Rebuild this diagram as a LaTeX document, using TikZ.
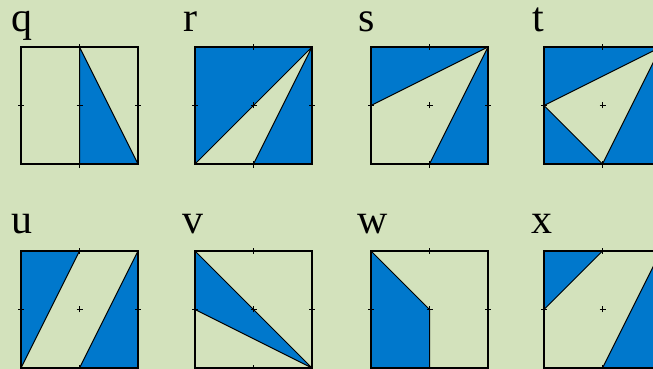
\documentclass[tikz,border=0pt]{standalone}
\usepackage{fontspec}
\setmainfont{Liberation Serif}
\definecolor{paper}{RGB}{211,226,188}
\definecolor{tileblue}{RGB}{0,120,204}
\tikzset{
  frame/.style  = {draw=black, line width=1.1pt},
  region/.style = {fill=tileblue},
  blank/.style  = {fill=paper},
  cut/.style    = {draw=black, line width=1pt, line join=round},
  tick/.style   = {draw=black, line width=1pt},
  tag/.style    = {font=\fontsize{42}{42}\selectfont, anchor=base west,
                   inner sep=0pt},
}
% side of a tile and half of it
\def\s{117}
\def\h{58.5}
\newcommand{\tileticks}{%
  \draw[tick] (-3,\h) -- (3,\h) (\s-3,\h) -- (\s+3,\h)
              (\h,-4) -- (\h,3) (\h,\s-3) -- (\h,\s+3)
              (\h-3,\h) -- (\h+3,\h) (\h,\h-3) -- (\h,\h+3);}

\begin{document}
\begin{tikzpicture}[x=1pt, y=1pt]
\useasboundingbox (0,0) rectangle (653,369);
\fill[paper] (0,0) rectangle (653,369);

% labels
\node[tag] (lq) at (11,337)  {q};
\node[tag] (lr) at (183,337) {r};
\node[tag] (ls) at (358,337) {s};
\node[tag] (lt) at (532,337) {t};
\node[tag] (lu) at (11,135)  {u};
\node[tag] (lv) at (182,135) {v};
\node[tag] (lw) at (357,135) {w};
\node[tag] (lx) at (531,135) {x};

% q
\begin{scope}[shift={(21,205)}]
  \draw[cut, region] (\h,\s) -- (\s,0) -- (\h,0) -- cycle;
  \draw[frame] (0,0) rectangle (\s,\s);
  \draw[cut] (\h,\s) -- (\h,0);
  \tileticks
\end{scope}

% r
\begin{scope}[shift={(195,205)}]
  \fill[region] (0,0) rectangle (\s,\s);
  \draw[cut, blank] (0,0) -- (\s,\s) -- (\h,0) -- cycle;
  \draw[frame] (0,0) rectangle (\s,\s);
  \draw[line width=2.2pt] (0,0) -- (0,\s);
  \tileticks
\end{scope}

% s
\begin{scope}[shift={(371,205)}]
  \draw[cut, region] (0,\h) -- (0,\s) -- (\s,\s) -- cycle;
  \draw[cut, region] (\s,\s) -- (\s,0) -- (\h,0) -- cycle;
  \draw[frame] (0,0) rectangle (\s,\s);
  \tileticks
\end{scope}

% t
\begin{scope}[shift={(544,205)}]
  \fill[region] (0,0) rectangle (\s,\s);
  \draw[cut, blank] (0,\h) -- (\s,\s) -- (\h,0) -- cycle;
  \draw[frame] (0,0) rectangle (\s,\s);
  \tileticks
\end{scope}

% u
\begin{scope}[shift={(21,1)}]
  \draw[cut, region] (0,0) -- (0,\s) -- (\h,\s) -- cycle;
  \draw[cut, region] (\s,\s) -- (\s,0) -- (\h,0) -- cycle;
  \draw[frame] (0,0) rectangle (\s,\s);
  \tileticks
\end{scope}

% v
\begin{scope}[shift={(195,1)}]
  \draw[cut, region] (0,\s) -- (0,\h) -- (\s,0) -- cycle;
  \draw[frame] (0,0) rectangle (\s,\s);
  \tileticks
\end{scope}

% w
\begin{scope}[shift={(371,1)}]
  \draw[cut, region] (0,\s) -- (\h,\h) -- (\h,0) -- (0,0) -- cycle;
  \draw[frame] (0,0) rectangle (\s,\s);
  \tileticks
\end{scope}

% x
\begin{scope}[shift={(544,1)}]
  \draw[cut, region] (0,\s) -- (\h,\s) -- (0,\h) -- cycle;
  \draw[cut, region] (\s,\s) -- (\s,0) -- (\h,0) -- cycle;
  \draw[frame] (0,0) rectangle (\s,\s);
  \tileticks
\end{scope}
\end{tikzpicture}
\end{document}
